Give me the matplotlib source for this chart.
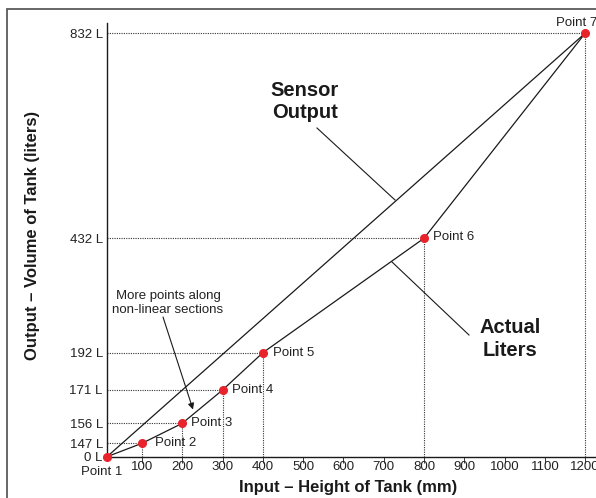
import matplotlib

matplotlib.use("Agg")
import matplotlib.pyplot as plt
import numpy as np
from matplotlib.patches import Rectangle

# Tank calibration points (height in mm -> volume in liters)
POINT_NAMES = ["Point 1", "Point 2", "Point 3", "Point 4", "Point 5", "Point 6", "Point 7"]
HEIGHT_MM = [0, 100, 200, 300, 400, 800, 1200]
VOLUME_L = [0, 147, 156, 171, 192, 432, 832]

# sensor output: straight line between the two end points
SENSOR_MM = [0, 1200]
SENSOR_L = [0, 832]

X_TICKS = [100, 200, 300, 400, 500, 600, 700, 800, 900, 1000, 1100, 1200]
Y_TICKS = [0, 147, 156, 171, 192, 432, 832]
Y_TICK_LABELS = [f"{v} L" for v in Y_TICKS]

# the drawing is a schematic: both axes are stretched piecewise
X_SCALE_SRC = [0, 100, 1200]
X_SCALE_DST = [0, 35, 478]
Y_SCALE_DST = [0, 13.4, 33.4, 66.7, 104, 218.4, 423.4]

W, H = 596, 498
INK = "#1a1a1a"
DOT = "#333333"
RED = "#e8232b"
FONT = ["Liberation Sans", "DejaVu Sans"]

plt.rcParams["font.family"] = FONT


def piecewise(src, dst):
    src, dst = np.asarray(src, float), np.asarray(dst, float)
    lo = (dst[1] - dst[0]) / (src[1] - src[0])
    hi = (dst[-1] - dst[-2]) / (src[-1] - src[-2])

    def f(v):
        v = np.asarray(v, float)
        out = np.interp(v, src, dst)
        out = np.where(v < src[0], dst[0] + (v - src[0]) * lo, out)
        out = np.where(v > src[-1], dst[-1] + (v - src[-1]) * hi, out)
        return out
    return f


def fpx(x, y):
    """reference pixel -> figure fraction"""
    return x / W, 1 - y / H


fig = plt.figure(figsize=(W / 100, H / 100), dpi=100)
ax = fig.add_axes([107 / W, (H - 456.7) / H, (W - 107) / W, (456.7 - 23) / H])

ax.set_xscale("function", functions=(piecewise(X_SCALE_SRC, X_SCALE_DST),
                                     piecewise(X_SCALE_DST, X_SCALE_SRC)))
ax.set_yscale("function", functions=(piecewise(Y_TICKS, Y_SCALE_DST),
                                     piecewise(Y_SCALE_DST, Y_TICKS)))
ax.set_xlim(0, 1227)
ax.set_ylim(0, 852)

for s in ["top", "right"]:
    ax.spines[s].set_visible(False)
for s in ["left", "bottom"]:
    ax.spines[s].set_color(INK)
    ax.spines[s].set_linewidth(1.0)

# dotted guides from the axes to each point
for x, y in zip(HEIGHT_MM[1:], VOLUME_L[1:]):
    ax.plot([0, x], [y, y], color=DOT, lw=0.8, ls=(0, (1, 1.1)), zorder=1)
    ax.plot([x, x], [0, y], color=DOT, lw=0.8, ls=(0, (1, 1.1)), zorder=1)

ax.plot(SENSOR_MM, SENSOR_L, color=INK, lw=0.9, zorder=2)
ax.plot(HEIGHT_MM, VOLUME_L, color=INK, lw=0.9, zorder=2)
ax.plot(HEIGHT_MM, VOLUME_L, ls="none", marker="o", ms=5.5, color=RED,
        mec=RED, zorder=3, clip_on=False)

# point labels, offsets in pixels
offsets = [(-5, -15, "center"), (13, 0, "left"), (8.5, 0, "left"),
           (9, 0, "left"), (10, 0, "left"), (9, 1, "left"), (-8, 10, "center")]
for name, x, y, (dx, dy, ha) in zip(POINT_NAMES, HEIGHT_MM, VOLUME_L, offsets):
    ax.annotate(name, (x, y), xytext=(dx * 0.72, dy * 0.72),
                textcoords="offset points", ha=ha, va="center",
                fontsize=9.5, color="#222222", annotation_clip=False)

ax.set_xticks(X_TICKS, [str(t) for t in X_TICKS])
ax.set_yticks(Y_TICKS, Y_TICK_LABELS)
ax.tick_params(axis="x", direction="out", length=4.3, width=0.6, pad=-1.0,
               labelsize=9.5, colors=INK, labelcolor="#222222")
ax.tick_params(axis="y", length=0, pad=3, labelsize=9.5, labelcolor="#222222")

fig.text(*fpx(348, 487), "Input – Height of Tank (mm)", ha="center", va="center",
         fontsize=12, fontweight="bold", color=INK)
fig.text(*fpx(33, 235), "Output – Volume of Tank (liters)", ha="center",
         va="center", rotation=90, fontsize=12, fontweight="bold", color=INK)

fig.text(*fpx(305, 102), "Sensor\nOutput", ha="center", va="center",
         fontsize=14.5, fontweight="bold", color=INK, linespacing=1.2)
fig.text(*fpx(510, 339), "Actual\nLiters", ha="center", va="center",
         fontsize=14.5, fontweight="bold", color=INK, linespacing=1.3)
fig.text(*fpx(168, 303), "More points along\nnon-linear sections", ha="center",
         va="center", fontsize=9.5, color="#222222", linespacing=1.3)

# leader lines and arrow
fig.add_artist(plt.Line2D(*zip(fpx(317, 128), fpx(395, 200)), color=INK, lw=0.8))
fig.add_artist(plt.Line2D(*zip(fpx(392, 262), fpx(469, 335)), color=INK, lw=0.8))
ax.annotate("", xy=fpx(193, 409.5), xytext=fpx(163, 317),
            xycoords="figure fraction", textcoords="figure fraction",
            arrowprops=dict(arrowstyle="-|>", color=INK, lw=0.8,
                            mutation_scale=9, shrinkA=0, shrinkB=0))

# outer frame, clipped by the figure edges
fig.add_artist(Rectangle(fpx(7, 560), 1.2, (560 - 9) / H,
                         transform=fig.transFigure, fill=False,
                         ec="#5a5a5a", lw=1.3))

fig.savefig("out.png", dpi=100)
